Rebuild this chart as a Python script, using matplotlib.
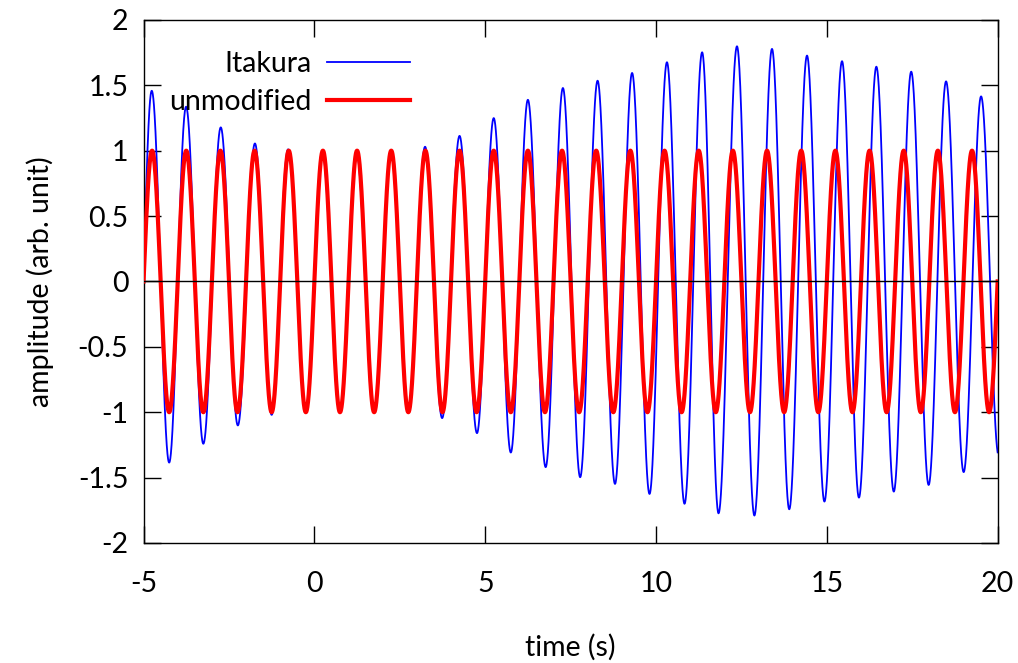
import numpy as np
import matplotlib
matplotlib.use("Agg")
import matplotlib.pyplot as plt

# peaks/troughs of the Itakura curve (time, amplitude)
itakura_t = [-5.24, -4.76, -4.25, -3.755, -3.25, -2.74, -2.24, -1.74, -1.25,
             -0.77, -0.24, 0.23, 0.75, 1.23, 1.75, 2.25, 2.75, 3.24, 3.74,
             4.25, 4.76, 5.25, 5.75, 6.25, 6.77, 7.275, 7.78, 8.29, 8.80,
             9.30, 9.81, 10.32, 10.835, 11.35, 11.83, 12.37, 12.88, 13.395,
             13.90, 14.42, 14.93, 15.445, 15.94, 16.45, 16.96, 17.47, 17.98,
             18.49, 19.005, 19.515, 20.03]
itakura_v = [-1.458, 1.458, -1.385, 1.336, -1.241, 1.178, -1.101, 1.055, -1.02,
             1.01, -0.99, 0.99, -0.98, 0.99, -0.99, 1.0, -1.0, 1.03, -1.045,
             1.113, -1.16, 1.249, -1.308, 1.389, -1.42, 1.479, -1.497, 1.535, -1.548,
             1.594, -1.625, 1.676, -1.70, 1.752, -1.773, 1.798, -1.79, 1.778,
             -1.742, 1.727, -1.683, 1.684, -1.653, 1.642, -1.607, 1.604, -1.556,
             1.530, -1.458, 1.415, -1.33]

# unmodified signal: plain sine
unmod_period = 1.0
unmod_amp = 1.0

t_start, t_end = -5, 20
xticks = [-5, 0, 5, 10, 15, 20]
yticks = [-2, -1.5, -1, -0.5, 0, 0.5, 1, 1.5, 2]


def join_extrema(t_ext, v_ext, t):
    # half-cosine swing between successive extrema
    t_ext = np.asarray(t_ext)
    v_ext = np.asarray(v_ext)
    i = np.clip(np.searchsorted(t_ext, t) - 1, 0, len(t_ext) - 2)
    s = (t - t_ext[i]) / (t_ext[i + 1] - t_ext[i])
    return v_ext[i] + (v_ext[i + 1] - v_ext[i]) * (1 - np.cos(np.pi * s)) / 2


def main():
    plt.rcParams['font.family'] = ['Lato', 'DejaVu Sans']
    plt.rcParams['axes.unicode_minus'] = False
    fs = 20.5

    t = np.linspace(t_start, t_end, 6001)
    y_ita = join_extrema(itakura_t, itakura_v, t)
    y_unm = unmod_amp * np.sin(2 * np.pi * (t - t_start) / unmod_period)

    fig = plt.figure(figsize=(10.18, 6.63), dpi=100)
    ax = fig.add_axes([0.141, 0.181, 0.839, 0.789])

    ax.plot(t, y_ita, color='#0000ff', lw=1.3, label='Itakura', zorder=2)
    ax.plot(t, y_unm, color='#ff0000', lw=3.0, label='unmodified', zorder=3)
    # zero axis sits on top of the curves
    ax.axhline(0, color='black', lw=1.0, zorder=4)

    ax.set_xlim(t_start, t_end)
    ax.set_ylim(-2, 2)
    ax.set_xticks(xticks)
    ax.set_xticklabels([f'{v:g}' for v in xticks])
    ax.set_yticks(yticks)
    ax.set_yticklabels([f'{v:g}' for v in yticks])
    ax.tick_params(direction='in', length=12, width=1.0, top=True, right=True,
                   labelsize=fs, colors='black')
    ax.tick_params(axis='x', pad=20)
    ax.tick_params(axis='y', pad=11)
    for sp in ax.spines.values():
        sp.set_linewidth(1.0)

    ax.set_xlabel('time (s)', fontsize=fs)
    ax.set_ylabel('amplitude (arb. unit)', fontsize=fs)
    ax.xaxis.set_label_coords(0.5, -0.2)
    ax.xaxis.label.set_va('center')
    ax.yaxis.set_label_coords(-0.121, 0.5)
    ax.yaxis.label.set_va('center')

    ax.legend(loc='upper right', bbox_to_anchor=(0.312, 0.94), frameon=False,
              markerfirst=False, handlelength=2.9, handletextpad=0.55,
              labelspacing=0.42, borderpad=0, borderaxespad=0, fontsize=fs)

    fig.savefig('out.png', dpi=100)


if __name__ == "__main__":
    main()
